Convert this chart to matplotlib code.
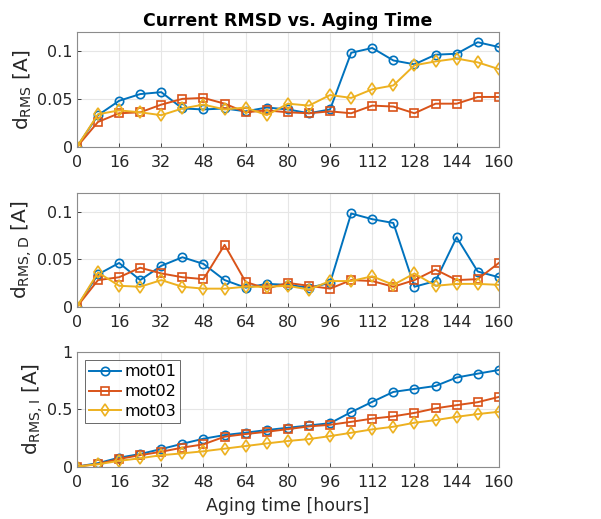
import matplotlib
matplotlib.use("Agg")
import matplotlib.pyplot as plt
from matplotlib.ticker import FuncFormatter

# aging time in hours
hours = list(range(0, 161, 8))

# d_RMS
rms_mot01 = [0, 0.033, 0.048, 0.055, 0.057, 0.040, 0.039, 0.040, 0.037, 0.041, 0.039,
             0.035, 0.039, 0.098, 0.103, 0.090, 0.086, 0.096, 0.097, 0.109, 0.104]
rms_mot02 = [0, 0.026, 0.035, 0.036, 0.044, 0.050, 0.051, 0.045, 0.036, 0.038, 0.036,
             0.035, 0.037, 0.035, 0.043, 0.042, 0.035, 0.045, 0.045, 0.052, 0.052]
rms_mot03 = [0, 0.034, 0.038, 0.036, 0.033, 0.040, 0.044, 0.039, 0.041, 0.033, 0.045,
             0.043, 0.054, 0.051, 0.060, 0.064, 0.085, 0.089, 0.092, 0.088, 0.081]

# d_RMS,D
rmsd_mot01 = [0, 0.034, 0.046, 0.028, 0.043, 0.052, 0.045, 0.028, 0.020, 0.024, 0.023,
              0.020, 0.025, 0.098, 0.092, 0.088, 0.021, 0.027, 0.073, 0.037, 0.031]
rmsd_mot02 = [0, 0.028, 0.031, 0.041, 0.035, 0.031, 0.029, 0.065, 0.026, 0.019, 0.025,
              0.022, 0.019, 0.028, 0.027, 0.021, 0.028, 0.039, 0.028, 0.029, 0.046]
rmsd_mot03 = [0, 0.036, 0.022, 0.021, 0.028, 0.021, 0.019, 0.019, 0.021, 0.021, 0.022,
              0.018, 0.027, 0.027, 0.032, 0.023, 0.035, 0.022, 0.024, 0.024, 0.023]

# d_RMS,I
rmsi_mot01 = [0, 0.03, 0.078, 0.11, 0.154, 0.20, 0.244, 0.276, 0.297, 0.32, 0.34,
              0.36, 0.38, 0.477, 0.567, 0.654, 0.68, 0.706, 0.78, 0.814, 0.846]
rmsi_mot02 = [0, 0.023, 0.067, 0.10, 0.13, 0.166, 0.195, 0.262, 0.285, 0.305, 0.328,
              0.352, 0.366, 0.392, 0.42, 0.44, 0.47, 0.51, 0.538, 0.564, 0.61]
rmsi_mot03 = [0, 0.02, 0.05, 0.073, 0.10, 0.116, 0.134, 0.157, 0.18, 0.203, 0.224,
              0.241, 0.267, 0.296, 0.326, 0.349, 0.384, 0.407, 0.436, 0.46, 0.48]

motors = ["mot01", "mot02", "mot03"]
colors = ["#0072BD", "#D95319", "#EDB120"]
markers = ["o", "s", "d"]

plt.rcParams["font.family"] = "DejaVu Sans"
plt.rcParams["font.size"] = 11

fig = plt.figure(figsize=(6.01, 5.19), dpi=100)
ax1 = fig.add_axes([0.128, 0.717, 0.702, 0.222])
ax2 = fig.add_axes([0.128, 0.409, 0.702, 0.220])
ax3 = fig.add_axes([0.128, 0.101, 0.702, 0.220])

panels = [
    (ax1, [rms_mot01, rms_mot02, rms_mot03], r"d$_{\mathrm{RMS}}$ [A]", 0.12, [0, 0.05, 0.1]),
    (ax2, [rmsd_mot01, rmsd_mot02, rmsd_mot03], r"d$_{\mathrm{RMS,D}}$ [A]", 0.12, [0, 0.05, 0.1]),
    (ax3, [rmsi_mot01, rmsi_mot02, rmsi_mot03], r"d$_{\mathrm{RMS,I}}$ [A]", 1.0, [0, 0.5, 1]),
]

for ax, series, ylab, ytop, yt in panels:
    for vals, name, c, m in zip(series, motors, colors, markers):
        ax.plot(hours, vals, color=c, marker=m, markersize=6 if m != "d" else 6.5,
                markerfacecolor="none", markeredgewidth=1.2, linewidth=1.4, label=name)
    ax.set_xlim(0, 160)
    ax.set_ylim(0, ytop)
    ax.set_xticks(range(0, 161, 16))
    ax.set_yticks(yt)
    ax.yaxis.set_major_formatter(FuncFormatter(lambda v, p: "%g" % v))
    ax.grid(True, color="#e6e6e6", linewidth=0.8)
    ax.set_axisbelow(True)
    ax.tick_params(direction="in", length=3, width=0.6, colors="#262626",
                   labelsize=11.5)
    ax.tick_params(axis="x", pad=6)
    ax.tick_params(axis="y", pad=3)
    for s in ax.spines.values():
        s.set_color("#8c8c8c")
        s.set_linewidth(0.8)
    ax.set_ylabel(ylab, fontsize=14.5, color="#262626", labelpad=2)

ax1.set_title("Current RMSD vs. Aging Time", fontsize=12.5, fontweight="bold", pad=4)
ax3.set_xlabel("Aging time [hours]", fontsize=12.5, color="#262626", labelpad=5)

leg = ax3.legend(loc="upper left", fontsize=11.5, frameon=True, fancybox=False,
                 edgecolor="#262626", borderpad=0.25, handlelength=2.0,
                 labelspacing=0.3, handletextpad=0.2, borderaxespad=0.5)
leg.get_frame().set_linewidth(0.6)

fig.savefig("out.png", dpi=100)
